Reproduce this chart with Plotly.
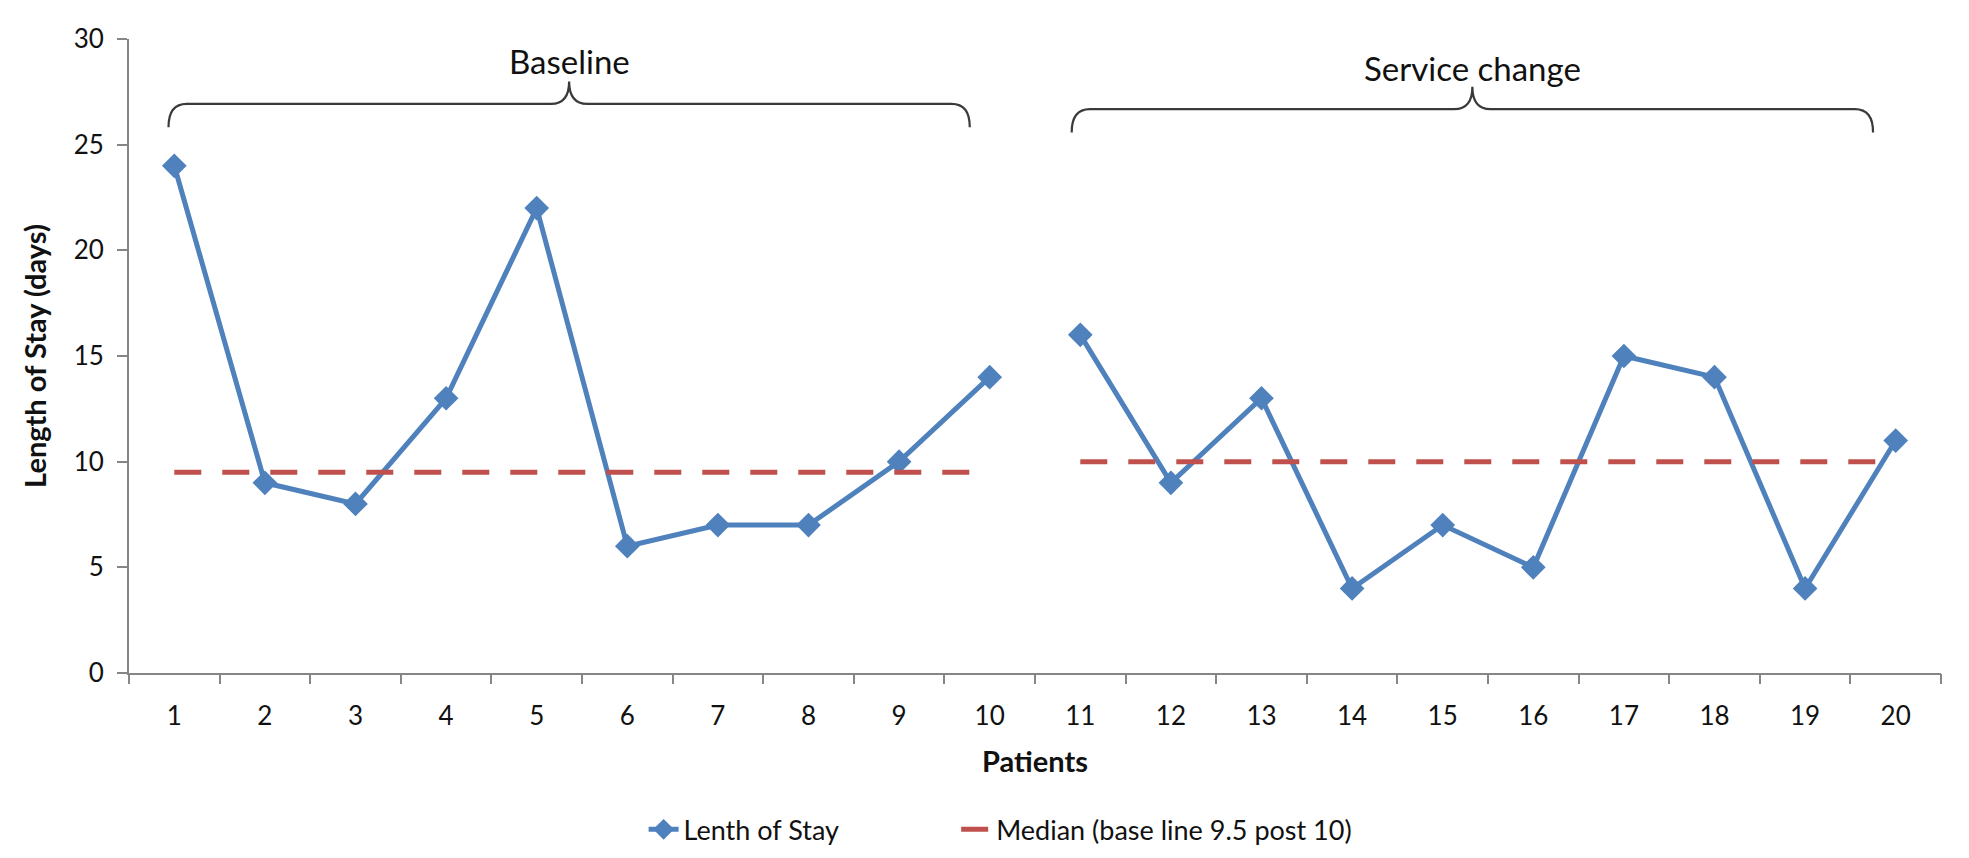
import plotly.graph_objects as go

patients = list(range(1, 21))
length_of_stay = [24, 9, 8, 13, 22, 6, 7, 7, 10, 14, 16, 9, 13, 4, 7, 5, 15, 14, 4, 11]
baseline_n = 10
median_baseline = 9.5
median_post = 10

brace_labels = ["Baseline", "Service change"]
brace_start = [0.936, 10.905]
brace_end = [9.78, 19.75]
brace_level = [26.93, 26.68]
brace_label_y = [28.96, 28.63]

BLUE = "#4F81BD"
RED = "#C0504D"
FONT = "Lato"
TXT = "#111111"
AX = "#868686"

fig = go.Figure()

# Length of stay, two phases (line broken between phases)
for i, (xs, ys) in enumerate([(patients[:baseline_n], length_of_stay[:baseline_n]),
                              (patients[baseline_n:], length_of_stay[baseline_n:])]):
    fig.add_trace(go.Scatter(
        x=xs, y=ys, mode="lines+markers",
        name="Lenth of Stay", legendgroup="los", showlegend=(i == 0), legend="legend",
        line=dict(color=BLUE, width=5),
        marker=dict(symbol="diamond", size=19, color=BLUE),
    ))
# Medians
for i, (xs, m) in enumerate([([patients[0], patients[baseline_n - 1]], median_baseline),
                             ([patients[baseline_n], patients[-1]], median_post)]):
    fig.add_trace(go.Scatter(
        x=xs, y=[m, m], mode="lines",
        name="Median (base line 9.5 post 10)", legendgroup="med", showlegend=(i == 0),
        legend="legend2",
        line=dict(color=RED, width=5, dash="27px,21px"),
    ))
# invisible trace on overlay axis (boundary tick marks)
fig.add_trace(go.Scatter(x=[None], y=[None], xaxis="x2", showlegend=False, hoverinfo="skip"))

# Braces
shapes = []
annotations = []
r = 0.2
drop = 1.1
rise = 1.06
for lab, x0, x1, yh, ly in zip(brace_labels, brace_start, brace_end, brace_level, brace_label_y):
    xm = (x0 + x1) / 2
    ye = yh - drop
    yt = yh + rise
    path = (f"M {x0},{ye} Q {x0},{yh} {x0 + r},{yh} L {xm - r},{yh} "
            f"Q {xm},{yh} {xm},{yt} Q {xm},{yh} {xm + r},{yh} "
            f"L {x1 - r},{yh} Q {x1},{yh} {x1},{ye}")
    shapes.append(dict(type="path", path=path, xref="x", yref="y",
                       line=dict(color="#3a3a3a", width=2.2)))
    annotations.append(dict(x=xm, y=ly, xref="x", yref="y", text=lab,
                            showarrow=False, yanchor="middle",
                            font=dict(family=FONT, size=33, color=TXT)))

legend_common = dict(orientation="h", yanchor="bottom", y=-0.286,
                     font=dict(family=FONT, size=27, color=TXT), bgcolor="rgba(0,0,0,0)")

fig.update_layout(
    width=1953, height=842,
    margin=dict(l=121, r=20, t=31, b=177, autoexpand=False),
    paper_bgcolor="white", plot_bgcolor="white",
    font=dict(family=FONT, size=26, color=TXT),
    showlegend=True,
    legend=dict(x=0.284, xanchor="left", **legend_common),
    legend2=dict(x=0.4565, xanchor="left", **legend_common),
    shapes=shapes,
    annotations=annotations,
    xaxis=dict(
        range=[0.5, 20.5], tickmode="array", tickvals=patients,
        ticktext=[str(p) for p in patients], ticks="", showgrid=False, zeroline=False,
        showline=True, linecolor=AX, linewidth=2, automargin=False,
        ticklabelstandoff=19,
        tickfont=dict(family=FONT, size=26, color=TXT),
        title=dict(text="<b>Patients</b>", font=dict(family=FONT, size=29, color=TXT),
                   standoff=21),
    ),
    xaxis2=dict(
        range=[0.5, 20.5], overlaying="x", anchor="y", side="bottom",
        tickmode="array", tickvals=[p - 0.5 for p in patients] + [patients[-1] + 0.5],
        showticklabels=False, ticks="outside", ticklen=10, tickwidth=2, tickcolor=AX,
        showgrid=False, zeroline=False, showline=False, automargin=False,
    ),
    yaxis=dict(
        range=[0, 30], tickmode="array", tickvals=[0, 5, 10, 15, 20, 25, 30],
        ticks="outside", ticklen=10, tickwidth=2, tickcolor=AX,
        showgrid=False, zeroline=False, showline=True, linecolor=AX, linewidth=2,
        automargin=False, ticklabelstandoff=8,
        tickfont=dict(family=FONT, size=26, color=TXT),
        title=dict(text="<b>Length of Stay (days)</b>",
                   font=dict(family=FONT, size=29, color=TXT), standoff=18),
    ),
)

fig.write_html("out.html")
